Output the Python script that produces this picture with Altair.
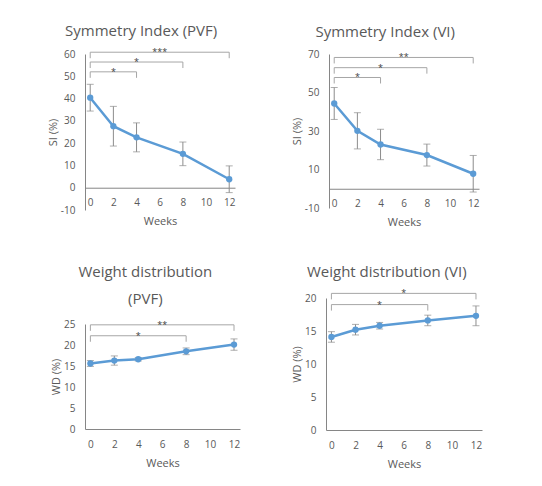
import altair as alt
import pandas as pd

weeks = [0, 2, 4, 8, 12]
week_ticks = [0, 2, 4, 6, 8, 10, 12]

# Symmetry Index (PVF)
si_pvf_mean = [40.4, 27.6, 22.6, 15.2, 3.8]
si_pvf_sd = [6.0, 8.9, 6.5, 5.3, 6.0]
si_pvf_sig_end = [4, 8, 12]
si_pvf_sig_y = [52.0, 56.4, 60.8]
si_pvf_sig_mark = ["*", "*", "***"]

# Symmetry Index (VI)
si_vi_mean = [44.3, 30.1, 23.0, 17.5, 7.8]
si_vi_sd = [8.3, 9.4, 7.9, 5.7, 9.5]
si_vi_sig_end = [4, 8, 12]
si_vi_sig_y = [57.8, 62.9, 68.2]
si_vi_sig_mark = ["*", "*", "**"]

# Weight distribution (PVF)
wd_pvf_mean = [15.6, 16.3, 16.6, 18.5, 20.1]
wd_pvf_sd = [0.7, 1.1, 0.4, 0.8, 1.35]
wd_pvf_sig_end = [8, 12]
wd_pvf_sig_y = [22.2, 24.8]
wd_pvf_sig_mark = ["*", "**"]

# Weight distribution (VI)
wd_vi_mean = [14.1, 15.2, 15.8, 16.6, 17.3]
wd_vi_sd = [0.8, 0.8, 0.5, 0.8, 1.5]
wd_vi_sig_end = [8, 12]
wd_vi_sig_y = [19.0, 20.7]
wd_vi_sig_mark = ["*", "*"]

BLUE = "#5B9BD5"
GREY = "#8c8c8c"
LIGHT = "#a6a6a6"
AXIS = "#868686"
TXT = "#595959"
FONT = "Open Sans"


def panel(title, ytitle, mean, sd, sig_end, sig_y, sig_mark, ydom, yticks, w, h, toff=9):
    d = pd.DataFrame({"week": weeks, "mean": mean, "sd": sd})
    d["lo"] = d["mean"] - d["sd"]
    d["hi"] = d["mean"] + d["sd"]
    s = pd.DataFrame({"end": sig_end, "level": sig_y, "mark": sig_mark})
    s["start"] = 0
    s["mid"] = s["end"] / 2

    xs = alt.Scale(domain=[-0.45, 12.5], nice=False, zero=False)
    ys = alt.Scale(domain=ydom, nice=False, zero=False)
    # x axis drawn on the zero line (Excel style)
    off = -h * (0 - ydom[0]) / (ydom[1] - ydom[0])

    xaxis = alt.Axis(values=week_ticks, title="Weeks", offset=off, ticks=False,
                     grid=False, labelPadding=10, titlePadding=8)
    yaxis = alt.Axis(values=yticks, title=ytitle, ticks=False, grid=False,
                     labelPadding=10, titlePadding=2, labelExpr="'' + datum.value")

    def X(f):
        return alt.X(f, type="quantitative", scale=xs, axis=xaxis)

    def Y(f):
        return alt.Y(f, type="quantitative", scale=ys, axis=yaxis)

    base = alt.Chart(d)
    bars = base.mark_rule(color=GREY, strokeWidth=1).encode(x=X("week"), y=Y("lo"), y2="hi")
    cap_lo = base.mark_tick(color=GREY, orient="horizontal", size=7, thickness=1).encode(
        x=X("week"), y=Y("lo"))
    cap_hi = base.mark_tick(color=GREY, orient="horizontal", size=7, thickness=1).encode(
        x=X("week"), y=Y("hi"))
    line = base.mark_line(color=BLUE, strokeWidth=2.5).encode(x=X("week"), y=Y("mean"))
    pts = base.mark_circle(color=BLUE, size=40, opacity=1).encode(x=X("week"), y=Y("mean"))

    # significance brackets
    sb = alt.Chart(s)
    hline = sb.mark_rule(color=LIGHT, strokeWidth=1).encode(x=X("start"), x2="end", y=Y("level"))
    leg_l = sb.mark_rule(color=LIGHT, strokeWidth=1, y2Offset=6).encode(
        x=X("start"), y=Y("level"), y2="level")
    leg_r = sb.mark_rule(color=LIGHT, strokeWidth=1, y2Offset=6).encode(
        x=X("end"), y=Y("level"), y2="level")
    stars = sb.mark_text(font=FONT, fontSize=9, dy=3, baseline="alphabetic",
                         color="#404040").encode(x=X("mid"), y=Y("level"), text="mark:N")

    return alt.layer(hline, leg_l, leg_r, stars, bars, cap_lo, cap_hi, line, pts).properties(
        width=w, height=h,
        title=alt.TitleParams(text=title, fontSize=15, font=FONT, color=TXT,
                              fontWeight="normal", offset=toff, frame="bounds",
                              anchor="middle", lineHeight=27),
    )


p1 = panel("Symmetry Index (PVF)", "SI (%)", si_pvf_mean, si_pvf_sd, si_pvf_sig_end,
           si_pvf_sig_y, si_pvf_sig_mark, [-10, 60], list(range(-10, 61, 10)), 150, 156)
p2 = panel("Symmetry Index (VI)", "SI (%)", si_vi_mean, si_vi_sd, si_vi_sig_end,
           si_vi_sig_y, si_vi_sig_mark, [-10, 70], [-10, 10, 30, 50, 70], 150, 154)
p3 = panel(["Weight distribution", "(PVF)"], "WD (%)", wd_pvf_mean, wd_pvf_sd, wd_pvf_sig_end,
           wd_pvf_sig_y, wd_pvf_sig_mark, [0, 25], list(range(0, 26, 5)), 155, 105, toff=12)
p4 = panel("Weight distribution (VI)", "WD (%)", wd_vi_mean, wd_vi_sd, wd_vi_sig_end,
           wd_vi_sig_y, wd_vi_sig_mark, [0, 20], list(range(0, 21, 5)), 156, 132)

chart = (
    alt.concat(p1, p2, p3, p4, columns=2, align="none",
               spacing={"row": 37, "column": 51})
    .properties(padding={"left": 39, "top": 16, "right": 5, "bottom": 5})
    .configure_view(stroke=None)
    .configure_axis(
        domainColor=AXIS,
        labelColor=TXT,
        titleColor=TXT,
        labelFont=FONT,
        titleFont=FONT,
        labelFontSize=10,
        titleFontSize=11,
        titleFontWeight="normal",
    )
)

chart.save("out.html", embed_options={"renderer": "svg", "actions": False})
